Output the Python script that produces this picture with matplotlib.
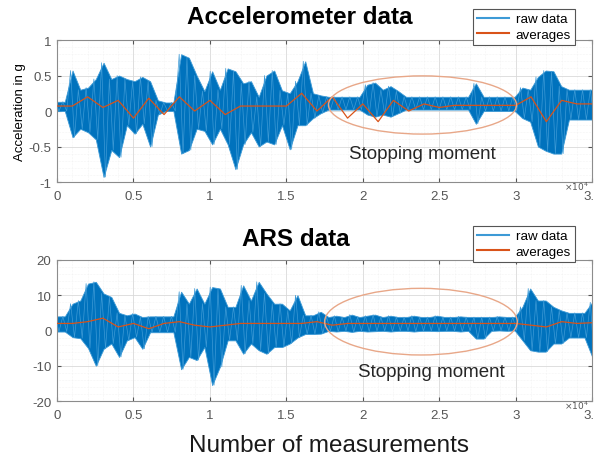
import matplotlib.pyplot as plt
from matplotlib.patches import Ellipse
from matplotlib.ticker import MultipleLocator, FormatStrFormatter
import numpy as np

plt.rcParams.update({
    "font.family": ["Liberation Sans", "DejaVu Sans"],
    "font.size": 8,
    "axes.unicode_minus": False,
})

BLUE = "#0072BD"
LIGHT_BLUE = "#3D9AD6"
ORANGE = "#D95319"
ELLIPSE = "#E8A788"
GRID = "#D9D9D9"
TICK = "#555555"

N_SAMPLES = 35000

# accelerometer raw data envelope per 500-sample bin (g)
acc_hi = [0.13, 0.13, 0.57, 0.30, 0.33, 0.45, 0.68, 0.45, 0.50, 0.45,
          0.42, 0.48, 0.42, 0.15, 0.12, 0.12, 0.80, 0.75, 0.50, 0.28,
          0.56, 0.30, 0.60, 0.56, 0.39, 0.42, 0.20, 0.50, 0.57, 0.29,
          0.25, 0.42, 0.70, 0.25, 0.22, 0.20, 0.20, 0.20, 0.20, 0.20,
          0.37, 0.40, 0.30, 0.35, 0.28, 0.20, 0.20, 0.20, 0.20, 0.20,
          0.20, 0.20, 0.20, 0.20, 0.39, 0.20, 0.20, 0.20, 0.20, 0.20,
          0.33, 0.30, 0.48, 0.57, 0.56, 0.35, 0.30, 0.30, 0.30, 0.30]
acc_lo = [0.00, 0.00, -0.37, -0.25, -0.30, -0.40, -0.93, -0.55, -0.65, -0.20,
          -0.32, -0.18, -0.50, -0.05, 0.00, 0.00, -0.60, -0.55, -0.25, -0.28,
          -0.47, -0.25, -0.47, -0.82, -0.47, -0.30, -0.50, -0.43, -0.47, -0.20,
          -0.54, -0.20, -0.20, -0.10, -0.03, 0.02, 0.02, 0.02, 0.02, 0.02,
          -0.05, -0.08, -0.05, -0.08, -0.03, 0.02, 0.02, 0.02, 0.02, 0.02,
          0.02, 0.02, 0.02, 0.02, -0.18, 0.00, 0.00, 0.00, 0.00, 0.00,
          -0.10, -0.15, -0.50, -0.56, -0.60, -0.60, -0.12, -0.12, -0.12, -0.12]
# moving averages, one value per 1000 samples
acc_avg = [0.07, 0.07, 0.20, 0.05, 0.15, -0.10, 0.18, -0.05, 0.20, 0.00,
           0.15, -0.05, 0.07, 0.07, 0.07, 0.07, 0.25, 0.00, 0.20, -0.10,
           0.10, -0.15, 0.15, 0.00, 0.10, 0.05, 0.08, 0.08, 0.08, 0.08,
           0.08, 0.20, -0.15, 0.15, 0.10, 0.10]

# ARS raw data envelope per 500-sample bin
ars_hi = [4.0, 4.0, 7.6, 8.5, 13.3, 13.8, 10.5, 9.5, 5.0, 4.3,
          4.8, 3.8, 4.0, 4.0, 4.0, 4.0, 11.0, 7.6, 11.9, 7.6,
          12.3, 11.9, 6.7, 6.7, 12.8, 8.5, 13.8, 10.5, 7.6, 7.6,
          5.7, 10.0, 4.3, 4.3, 5.3, 3.8, 4.2, 3.8, 4.5, 3.8,
          4.2, 4.5, 3.8, 4.2, 3.8, 3.8, 4.2, 3.8, 3.8, 4.2,
          3.8, 3.8, 4.0, 3.8, 3.8, 3.8, 3.8, 4.0, 3.8, 3.8,
          6.7, 11.9, 8.5, 8.5, 6.7, 5.7, 5.0, 5.0, 5.0, 8.0]
ars_lo = [-0.3, -0.3, -1.9, -2.2, -5.0, -10.0, -5.2, -3.7, -7.5, -2.8,
          -1.9, -5.2, -0.5, -0.5, -0.5, -0.5, -11.0, -7.5, -8.4, -4.7,
          -15.5, -10.3, -2.8, -2.8, -6.6, -3.7, -5.6, -6.6, -4.7, -4.7,
          -3.7, -2.0, -1.0, -1.0, -0.9, -0.1, -0.3, -0.1, -0.4, -0.1,
          -0.3, -0.2, -0.1, -0.3, -0.1, -0.1, -0.3, -0.1, -0.1, -0.2,
          -0.1, -0.1, -0.3, -0.1, -2.3, -2.3, -0.1, 0.0, -0.1, 0.0,
          -2.8, -5.6, -6.0, -6.0, -3.7, -3.7, -2.0, -2.0, -2.0, -7.5]
ars_avg = [2.0, 2.0, 2.5, 3.5, 1.0, 2.0, 0.5, 2.0, 2.5, 1.5,
           1.0, 1.5, 2.0, 2.0, 2.0, 2.0, 2.0, 2.5, 1.5, 2.0,
           2.0, 2.0, 2.0, 2.0, 2.0, 2.0, 2.0, 2.0, 2.0, 2.0,
           2.0, 1.5, 1.0, 2.5, 2.0, 2.2]


def draw_panel(ax, hi, lo, avg, ylim, ystep, yminor):
    xc = np.linspace(0, N_SAMPLES, len(hi))
    ax.fill_between(xc, lo, hi, color=BLUE, linewidth=0.6,
                    edgecolor=LIGHT_BLUE, zorder=2)
    # zig-zag between envelope values for a noisy texture
    half = (xc[1] - xc[0]) / 4
    xz = np.ravel(np.column_stack([xc - half, xc + half]))
    yz = np.ravel(np.column_stack([hi, lo]))
    raw, = ax.plot(xz, yz, color=LIGHT_BLUE, linewidth=0.5, zorder=3,
                   label="raw data")
    xa = np.linspace(0, N_SAMPLES, len(avg))
    av, = ax.plot(xa, avg, color=ORANGE, linewidth=0.9, zorder=4,
                  label="averages")

    ax.set_ylim(*ylim)
    ticks = np.arange(0, N_SAMPLES + 1, 5000)
    ax.set_xticks(ticks)
    ax.set_xticklabels([f"{t / 1e4:g}" for t in ticks])
    ax.xaxis.set_minor_locator(MultipleLocator(1000))
    ax.set_xlim(0, N_SAMPLES)
    ax.yaxis.set_major_locator(MultipleLocator(ystep))
    ax.yaxis.set_minor_locator(MultipleLocator(yminor))
    ax.yaxis.set_major_formatter(FormatStrFormatter("%g"))
    ax.grid(True, which="major", color=GRID, linewidth=0.6, zorder=0)
    ax.grid(True, which="minor", color="#EBEBEB", linewidth=0.4,
            linestyle=":", zorder=0)
    ax.set_axisbelow(True)
    ax.tick_params(which="both", direction="in", colors=TICK,
                   labelsize=9.5, top=True, right=True, length=3)
    ax.tick_params(axis="x", pad=6)
    ax.tick_params(axis="y", pad=4)
    ax.tick_params(which="minor", length=0)
    for s in ax.spines.values():
        s.set_color("#8C8C8C")
        s.set_linewidth(0.8)
    return raw, av


fig = plt.figure(figsize=(5.94, 4.64), dpi=100)
ax1 = fig.add_axes([0.096, 0.6056, 0.901, 0.306])
ax2 = fig.add_axes([0.096, 0.1336, 0.901, 0.304])

h1 = draw_panel(ax1, acc_hi, acc_lo, acc_avg, (-1, 1), 0.5, 0.1)
h2 = draw_panel(ax2, ars_hi, ars_lo, ars_avg, (-20, 20), 10, 2)

ax1.set_ylabel("Acceleration in g", fontsize=9.5, labelpad=2)

ax1.add_patch(Ellipse((23900, 0.085), 12300, 0.82, fill=False,
                      edgecolor=ELLIPSE, linewidth=1.0, zorder=5))
ax2.add_patch(Ellipse((23800, 2.5), 12600, 18.9, fill=False,
                      edgecolor=ELLIPSE, linewidth=1.0, zorder=5))
ax1.text(23900, -0.6, "Stopping moment", ha="center", va="center",
         fontsize=13.5, color="#262626", zorder=6)
ax2.text(24500, -11.6, "Stopping moment", ha="center", va="center",
         fontsize=13.5, color="#262626", zorder=6)

fig.text(300 / 594, 1 - 18 / 464, "Accelerometer data", ha="center",
         va="center", fontsize=17.5, fontweight="bold")
fig.text(296 / 594, 1 - 240 / 464, "ARS data", ha="center",
         va="center", fontsize=17.5, fontweight="bold")
fig.text(329 / 594, 1 - 446 / 464, "Number of measurements", ha="center",
         va="center", fontsize=17.5, color="#1a1a1a")
fig.text(576 / 594, 1 - 187 / 464, r"$\times10^4$", ha="center",
         va="center", fontsize=6.5, color=TICK)
fig.text(576 / 594, 1 - 406 / 464, r"$\times10^4$", ha="center",
         va="center", fontsize=6.5, color=TICK)

for ax, (raw, av), top in ((ax1, h1, 10), (ax2, h2, 227)):
    leg = ax.legend(handles=[raw, av], loc="upper left",
                    bbox_to_anchor=(473 / 594, 1 - top / 464),
                    bbox_transform=fig.transFigure, borderaxespad=0,
                    fontsize=9.6, fancybox=False, framealpha=1,
                    edgecolor="#555555", handlelength=2.4,
                    handletextpad=0.5, borderpad=0.3, labelspacing=0.25)
    leg.get_frame().set_linewidth(0.8)
    leg.set_zorder(10)
    for line in leg.get_lines():
        line.set_linewidth(1.5)

fig.savefig("out.png", dpi=100, facecolor="white")
